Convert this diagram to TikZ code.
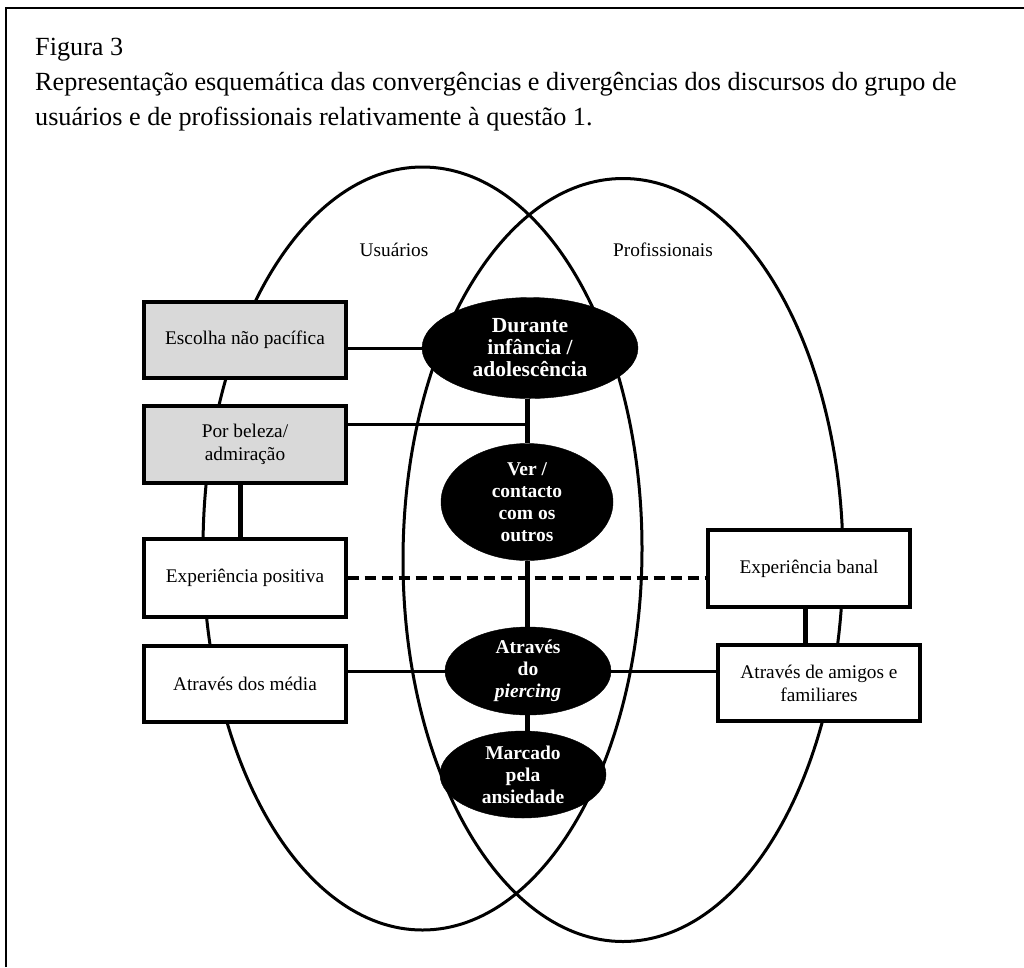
\documentclass[tikz,border=0pt]{standalone}
\usepackage{fontspec}
\setmainfont{Liberation Serif}
\usetikzlibrary{shapes.geometric}
\definecolor{boxgray}{HTML}{D9D9D9}
\tikzset{
  sq/.style={draw=black, line width=3.2pt, fill=white, rectangle, minimum width=202pt, inner sep=0pt, align=center, font=\fontsize{19.3}{23}\selectfont},
  graysq/.style={sq, fill=boxgray},
  blob/.style={ellipse, fill=black, draw=black, inner sep=0pt, align=center, text=white, font=\fontsize{19.5}{22}\selectfont\bfseries},
  bigblob/.style={blob, font=\fontsize{21.5}{22}\selectfont\bfseries},
  venn/.style={line width=3pt},
  con/.style={line width=3pt},
  thickcon/.style={line width=5pt},
  dashcon/.style={line width=3.5pt, dash pattern=on 11pt off 6pt},
  title/.style={anchor=base west, inner sep=0pt, font=\fontsize{26.2}{35}\selectfont},
  setlabel/.style={inner sep=0pt, font=\fontsize{19.3}{23}\selectfont}
}
\begin{document}
\begin{tikzpicture}[x=1pt,y=-1pt]
\useasboundingbox (0,0) rectangle (1024,967);
% frame
\draw[line width=2.5pt] (6,967) -- (6,8) -- (1024,8);
% title
\node[title] (t1) at (35,55) {Figura 3};
\node[title] (t2) at (35,90) {Representação esquemática das convergências e divergências dos discursos do grupo de};
\node[title] (t3) at (35,125) {usuários e de profissionais relativamente à questão 1.};
% venn ellipses
\draw[venn] (422.5,548.5) ellipse [x radius=219.5, y radius=381.5];
\draw[venn] (623,560) ellipse [x radius=220, y radius=381.5];
\node[setlabel] (lu) at (394,250) {Usuários};
\node[setlabel] (lp) at (663,250) {Profissionais};
% boxes
\node[graysq, minimum height=76pt] (esc) at (245,340) {Escolha não pacífica};
\node[graysq, minimum height=77pt] (pb) at (245,444.5) {Por beleza/\\admiração};
\node[sq, minimum height=78pt] (ep) at (245,578) {Experiência positiva};
\node[sq, minimum height=76pt] (med) at (245,684) {Através dos média};
\node[sq, minimum height=77pt] (eb) at (809,568.5) {Experiência banal};
\node[sq, minimum height=76pt] (am) at (819,683) {Através de amigos e\\familiares};
% black ellipses
\node[bigblob, minimum width=216pt, minimum height=101pt] (dur) at (530,348) {Durante\\infância /\\adolescência};
\node[blob, minimum width=172pt, minimum height=117pt] (ver) at (527,502) {Ver /\\contacto\\com os\\outros};
\node[blob, minimum width=166pt, minimum height=88pt] (atr) at (528,671) {Através\\do\\\textit{piercing}};
\node[blob, minimum width=166pt, minimum height=87pt] (mar) at (523,774.5) {Marcado\\pela\\ansiedade};
% connectors
\coordinate (vx) at (527,0);
\coordinate (pbj) at (527,424);
\coordinate (lx) at (240,0);
\coordinate (rx) at (805,0);
\draw[con] (dur.west) -- (dur.west -| esc.east);
\draw[con] (pb.east |- pbj) -- (pbj);
\draw[thickcon] (dur.south -| vx) -- (ver.north -| vx);
\draw[thickcon] (ver.south -| vx) -- (atr.north -| vx);
\draw[thickcon] (atr.south -| vx) -- (mar.north -| vx);
\draw[thickcon] (pb.south -| lx) -- (ep.north -| lx);
\draw[thickcon] (eb.south -| rx) -- (am.north -| rx);
\draw[dashcon] (ep.east) -- (ep.east -| eb.west);
\draw[con] (atr.west) -- (atr.west -| med.east);
\draw[con] (atr.east) -- (atr.east -| am.west);
\end{tikzpicture}
\end{document}
